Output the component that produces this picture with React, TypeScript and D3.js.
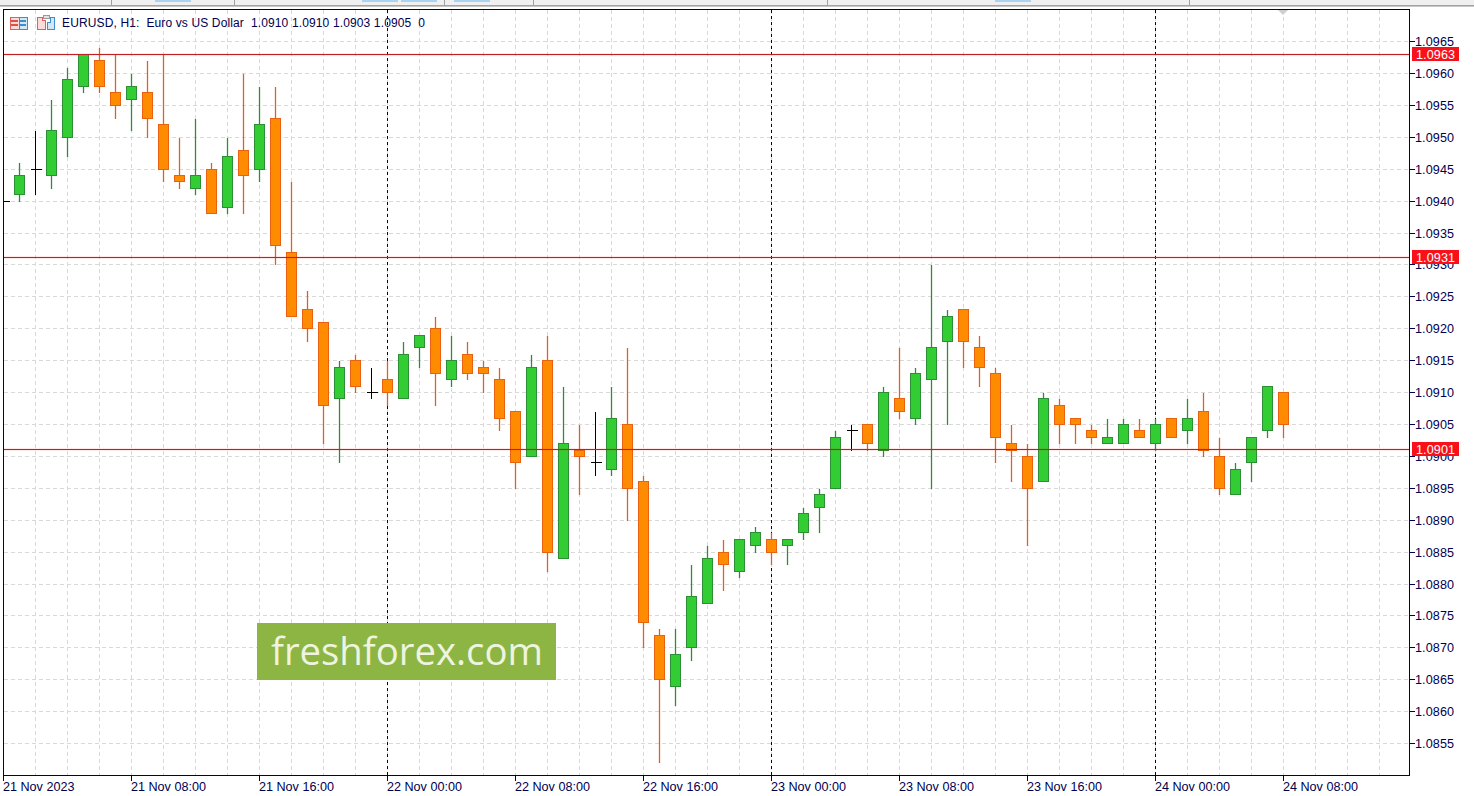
import React from "react";
import * as d3 from "d3";

const W = 1474, H = 796;
const opens = [1.0940,1.0941,1.0945,1.0944,1.0950,1.0958,1.0962,1.0957,1.0956,1.0957,1.0952,1.0944,1.0942,1.0945,1.0939,1.0948,1.0945,1.0953,1.0932,1.0923,1.0921,1.0909,1.0915,1.0910,1.0912,1.0909,1.0917,1.0920,1.0912,1.0916,1.0914,1.0912,1.0907,1.0900,1.0915,1.0884,1.0901,1.0899,1.0898,1.0905,1.0896,1.0872,1.0864,1.0870,1.0877,1.0885,1.0882,1.0886,1.0887,1.0886,1.0888,1.0892,1.0895,1.0904,1.0905,1.0901,1.0909,1.0906,1.0912,1.0918,1.0923,1.0917,1.0913,1.0902,1.0900,1.0896,1.0908,1.0906,1.0904,1.0902,1.0902,1.0904,1.0902,1.0906,1.0904,1.0907,1.0900,1.0894,1.0899,1.0904,1.0910];
const highs = [1.0940,1.0946,1.0951,1.0956,1.0961,1.0963,1.0964,1.0963,1.0960,1.0962,1.0963,1.0950,1.0953,1.0946,1.0950,1.0960,1.0958,1.0958,1.0943,1.0926,1.0921,1.0915,1.0916,1.0914,1.0915,1.0918,1.0919,1.0922,1.0919,1.0918,1.0915,1.0914,1.0907,1.0916,1.0919,1.0911,1.0905,1.0907,1.0911,1.0917,1.0897,1.0873,1.0873,1.0883,1.0886,1.0887,1.0887,1.0889,1.0888,1.0887,1.0892,1.0895,1.0904,1.0905,1.0905,1.0911,1.0917,1.0914,1.0930,1.0923,1.0923,1.0919,1.0914,1.0905,1.0902,1.0910,1.0909,1.0906,1.0905,1.0906,1.0906,1.0906,1.0906,1.0906,1.0909,1.0910,1.0903,1.0899,1.0903,1.0911,1.0910];
const lows = [1.0940,1.0940,1.0941,1.0942,1.0947,1.0957,1.0957,1.0953,1.0951,1.0950,1.0943,1.0942,1.0941,1.0938,1.0938,1.0938,1.0943,1.0930,1.0922,1.0918,1.0902,1.0899,1.0910,1.0909,1.0908,1.0909,1.0914,1.0908,1.0911,1.0912,1.0910,1.0904,1.0895,1.0900,1.0882,1.0884,1.0894,1.0897,1.0897,1.0890,1.0870,1.0852,1.0861,1.0868,1.0877,1.0879,1.0881,1.0885,1.0883,1.0883,1.0887,1.0888,1.0895,1.0901,1.0901,1.0900,1.0906,1.0905,1.0895,1.0905,1.0914,1.0911,1.0899,1.0896,1.0886,1.0896,1.0902,1.0902,1.0902,1.0902,1.0902,1.0903,1.0901,1.0903,1.0902,1.0900,1.0894,1.0894,1.0896,1.0903,1.0903];
const closes = [1.0940,1.0944,1.0945,1.0951,1.0959,1.0963,1.0958,1.0955,1.0958,1.0953,1.0945,1.0943,1.0944,1.0938,1.0947,1.0944,1.0952,1.0933,1.0922,1.0920,1.0908,1.0914,1.0911,1.0910,1.0910,1.0916,1.0919,1.0913,1.0915,1.0913,1.0913,1.0906,1.0899,1.0914,1.0885,1.0902,1.0900,1.0899,1.0906,1.0895,1.0874,1.0865,1.0869,1.0878,1.0884,1.0883,1.0887,1.0888,1.0885,1.0887,1.0891,1.0894,1.0903,1.0904,1.0902,1.0910,1.0907,1.0913,1.0917,1.0922,1.0918,1.0914,1.0903,1.0901,1.0895,1.0909,1.0905,1.0905,1.0903,1.0903,1.0905,1.0903,1.0905,1.0903,1.0906,1.0901,1.0895,1.0898,1.0903,1.0911,1.0905];

const priceTicks = [1.0965,1.096,1.0955,1.095,1.0945,1.094,1.0935,1.093,1.0925,1.092,1.0915,1.091,1.0905,1.09,1.0895,1.089,1.0885,1.088,1.0875,1.087,1.0865,1.086,1.0855];
const timeLabels = ["21 Nov 2023","21 Nov 08:00","21 Nov 16:00","22 Nov 00:00","22 Nov 08:00","22 Nov 16:00","23 Nov 00:00","23 Nov 08:00","23 Nov 16:00","24 Nov 00:00","24 Nov 08:00"];
const timeBars = [0,8,16,24,32,40,48,56,64,72,80];
const separators = [24,48,72];
const gridBars = d3.range(2, 88, 2);
const levels = [1.0963,1.09312,1.09011];
const tabStarts = [155,362,401,454,995];
const tabSeps = [111,234,444,533,827,1189];

const L = 3.5, R = 1409.5, T = 9.5, B = 775.5;
const x = d3.scaleLinear().domain([0, 80]).range([3.3, 1283.3]);
const y = d3.scaleLinear().domain([1.0965, 1.0855]).range([41.6, 743.6]);
const px = (v: number) => Math.round(v - 0.5) + 0.5;
const NAVY = "#00004f";
const FONT = "'Liberation Sans', Arial, sans-serif";

export default function App() {
  return (
    <svg width={W} height={H} viewBox={`0 0 ${W} ${H}`} style={{ position: "absolute", left: 0, top: 0, background: "#fff" }}>
      <defs><clipPath id="plot"><rect x={L} y={T} width={R - L} height={B - T} /></clipPath></defs>
      <rect x={0} y={0} width={W} height={5} fill="#f0f0f0" />
      <rect x={0} y={5} width={W} height={1.6} fill="#a3a3a3" />
      {tabStarts.map((s) => <rect key={s} x={s} y={0} width={36} height={2} fill="#a9d3f0" />)}
      {tabSeps.map((s) => <rect key={s} x={s} y={0} width={1} height={5} fill="#a0a0a0" />)}

      <g clipPath="url(#plot)" shapeRendering="crispEdges">
        {priceTicks.map((p) => <line key={p} x1={L} x2={R} y1={px(y(p))} y2={px(y(p))} stroke="#d9d9d9" strokeDasharray="4 3" />)}
        {gridBars.map((i) => <line key={i} x1={px(x(i))} x2={px(x(i))} y1={T} y2={B} stroke="#d9d9d9" strokeDasharray="4 3" />)}
        {separators.map((i) => <line key={i} x1={px(x(i))} x2={px(x(i))} y1={T} y2={B} stroke={NAVY} strokeDasharray="3 3" />)}
        {opens.map((o, i) => {
          const c = closes[i];
          const cx = px(x(i));
          if (o === c) {
            return (
              <g key={i} stroke="#000">
                <line x1={cx} x2={cx} y1={px(y(highs[i]))} y2={px(y(lows[i]))} />
                <line x1={cx - 5} x2={cx + 6} y1={px(y(o))} y2={px(y(o))} />
              </g>
            );
          }
          const up = c > o;
          const top = px(y(Math.max(o, c)));
          const bot = px(y(Math.min(o, c)));
          const wick = up ? "#2e8b3a" : "#e0601a";
          return (
            <g key={i}>
              <line x1={cx} x2={cx} y1={px(y(highs[i]))} y2={px(y(lows[i]))} stroke={wick} strokeWidth={3} strokeOpacity={0.14} />
              <line x1={cx} x2={cx} y1={px(y(highs[i]))} y2={px(y(lows[i]))} stroke={wick} />
              <rect x={cx - 5} y={top} width={10} height={Math.max(bot - top, 1)} fill={up ? "#32cd32" : "#ff8c00"} stroke={up ? "#2d8f35" : "#e8620f"} />
            </g>
          );
        })}
        {levels.map((p) => (
          <g key={p}>
            <line x1={L} x2={R} y1={px(y(p))} y2={px(y(p))} stroke="#ff2020" strokeWidth={3} strokeOpacity={0.1} />
            <line x1={L} x2={R} y1={px(y(p))} y2={px(y(p))} stroke="#c02020" />
          </g>
        ))}
      </g>

      <path d={`M1278 10 L1288 10 L1283 15 Z`} fill="#cfcfcf" />

      <rect x={257} y={623} width={299} height={57} fill="#8cb543" />
      <text x={271} y={665} fontFamily="'Open Sans', sans-serif" fontSize={38} fill="#eef4df" textLength={272} lengthAdjust="spacingAndGlyphs">freshforex.com</text>

      <rect x={L} y={T} width={R - L} height={B - T} fill="none" stroke={NAVY} shapeRendering="crispEdges" />

      {/* chart header icons */}
      <g shapeRendering="crispEdges">
        <rect x={10} y={17} width={9} height={12} fill="#fbdcd9" stroke="#e2605a" />
        <rect x={19} y={17} width={8} height={12} fill="#d3e7f6" stroke="#3d8fcc" />
        <rect x={11} y={20} width={7} height={2} fill="#e2504a" />
        <rect x={11} y={24} width={7} height={2} fill="#e2504a" />
        <rect x={20} y={20} width={6} height={2} fill="#3d8fcc" />
        <rect x={20} y={24} width={6} height={2} fill="#3d8fcc" />
        <path d="M37 17H42V20H45V29H37Z" fill="#fbdcd9" stroke="#e2605a" />
        <path d="M47 22H50V17H54V29H47Z" fill="#d3e7f6" stroke="#3d8fcc" />
        <rect x={43} y={15} width={6} height={3} fill="#e4e4e4" stroke="#999" />
      </g>
      <text x={62} y={27} fontFamily={FONT} fontSize={12} fill={NAVY} xmlSpace="preserve" textLength={363}>EURUSD, H1:  Euro vs US Dollar  1.0910 1.0910 1.0903 1.0905  0</text>

      {priceTicks.map((p) => (
        <g key={p}>
          <line x1={R} x2={R + 5} y1={px(y(p))} y2={px(y(p))} stroke={NAVY} shapeRendering="crispEdges" />
          <text x={1415} y={y(p) + 4.5} fontFamily={FONT} fontSize={12.6} fill={NAVY} textLength={39}>{d3.format(".4f")(p)}</text>
        </g>
      ))}
      {levels.map((p) => (
        <g key={p}>
          <rect x={1412} y={px(y(p)) - 7.5} width={47} height={14} fill="#f8101a" />
          <text x={1416} y={y(p) + 4.5} fontFamily={FONT} fontSize={12.6} fill="#fff" textLength={39}>{d3.format(".4f")(p)}</text>
        </g>
      ))}
      {timeLabels.map((t, k) => {
        const bx = px(x(timeBars[k]));
        return (
          <g key={t}>
            <line x1={bx} x2={bx} y1={B} y2={B + 5} stroke={NAVY} shapeRendering="crispEdges" />
            <text x={bx - 0.5} y={791} fontFamily={FONT} fontSize={12.6} fill={NAVY}>{t}</text>
          </g>
        );
      })}
    </svg>
  );
}
